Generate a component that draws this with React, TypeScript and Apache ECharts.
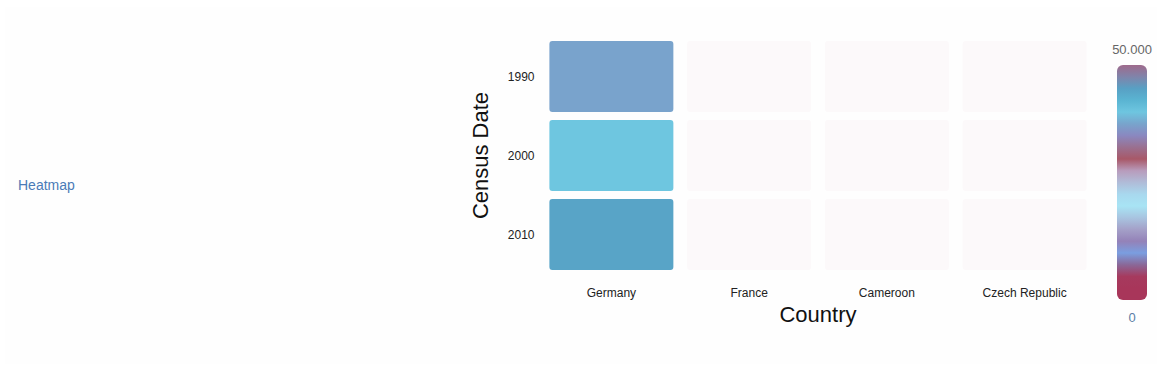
import React, { useEffect, useRef } from "react";
import * as echarts from "echarts";

const countries = ["Germany", "France", "Cameroon", "Czech Republic"];
const years = ["1990", "2000", "2010"];
// values per country, ordered as years
const germany = [37400, 40000, 44500];
const france = [1200, 1300, 1400];
const cameroon = [600, 700, 800];
const czech = [900, 1000, 700];
const rangeMin = 0;
const rangeMax = 50000;
const rangeLabels = ["50.000", "0"];
const seriesName = "Heatmap";

// colour ramp from min (first) to max (last)
const ramp = [
  "#a8365a", "#a8365a", "#a63a5e", "#8a6898", "#7a9ee0", "#9482b8", "#a4a0c8",
  "#a8c4e0", "#a8e4f4", "#a8d8ee", "#b0bcd8", "#b89cbc", "#a85868", "#9a7090",
  "#8a88c0", "#78a4cc", "#6ec6e0", "#5ab4d2", "#58a0c4", "#8084aa", "#9e6a8c",
];

const FONT = "'Liberation Sans', Arial, sans-serif";

export default function App() {
  const ref = useRef<HTMLDivElement>(null);
  useEffect(() => {
    if (!ref.current) return;
    const chart = echarts.init(ref.current, undefined, { renderer: "svg" });
    const rows = [germany, france, cameroon, czech];
    const data: number[][] = [];
    rows.forEach((vals, ci) => vals.forEach((v, yi) => data.push([ci, yi, v])));
    const stops = ramp
      .slice()
      .reverse()
      .map((c, i) => ({ offset: i / (ramp.length - 1), color: c }));

    chart.setOption({
      animation: false,
      backgroundColor: "#ffffff",
      textStyle: { fontFamily: FONT },
      grid: { left: 542.5, top: 37, width: 551, height: 237 },
      xAxis: {
        type: "category",
        data: countries,
        name: "Country",
        nameLocation: "middle",
        nameGap: 29,
        nameTextStyle: { fontSize: 22, color: "#111", fontFamily: FONT },
        axisLine: { show: false },
        axisTick: { show: false },
        splitLine: { show: false },
        axisLabel: { fontSize: 12, color: "#222", margin: 13, fontFamily: FONT },
      },
      yAxis: {
        type: "category",
        data: years,
        inverse: true,
        name: "Census Date",
        nameLocation: "middle",
        nameGap: 51,
        nameTextStyle: { fontSize: 22, color: "#111", fontFamily: FONT },
        axisLine: { show: false },
        axisTick: { show: false },
        splitLine: { show: false },
        axisLabel: { fontSize: 12, color: "#222", margin: 8, fontFamily: FONT },
      },
      visualMap: [
        {
          type: "continuous",
          show: false,
          seriesIndex: 0,
          dimension: 2,
          min: rangeMin,
          max: rangeMax,
          inRange: { color: ramp },
        },
        {
          type: "piecewise",
          show: false,
          seriesIndex: 0,
          dimension: 2,
          pieces: [{ lt: 5000 }, { gte: 5000 }],
          inRange: { colorAlpha: [0.025, 1] },
        },
      ],
      graphic: [
        {
          type: "rect",
          z: -10,
          shape: { x: 5, y: 7, width: 1152, height: 357 },
          style: { fill: "#fefefe" },
        },
        {
          type: "text",
          left: 18,
          top: 178,
          style: { text: seriesName, fill: "#4a7bb7", fontSize: 14, fontFamily: FONT },
        },
        {
          type: "rect",
          shape: { x: 1117, y: 65, width: 30, height: 235, r: 6 },
          style: { fill: new echarts.graphic.LinearGradient(0, 0, 0, 1, stops) },
        },
        {
          type: "text",
          x: 1132,
          y: 49,
          style: {
            text: rangeLabels[0],
            fill: "#666",
            fontSize: 13,
            fontFamily: FONT,
            align: "center",
            verticalAlign: "middle",
          },
        },
        {
          type: "text",
          x: 1132,
          y: 317,
          style: {
            text: rangeLabels[1],
            fill: "#5b7ea6",
            fontSize: 13,
            fontFamily: FONT,
            align: "center",
            verticalAlign: "middle",
          },
        },
      ],
      series: [
        {
          type: "custom",
          name: seriesName,
          encode: { x: 0, y: 1 },
          data,
          renderItem: (params: any, api: any) => {
            const c = api.coord([api.value(0), api.value(1)]);
            const s = api.size([1, 1]);
            const w = s[0] * 0.9;
            const h = s[1] * 0.9;
            return {
              type: "rect",
              shape: { x: c[0] - w / 2, y: c[1] - h / 2, width: w, height: h, r: 3 },
              style: { fill: api.visual("color") },
            };
          },
        },
      ],
    });
    return () => chart.dispose();
  }, []);
  return (
    <div
      ref={ref}
      style={{ position: "absolute", left: 0, top: 0, width: 1162, height: 371 }}
    />
  );
}
